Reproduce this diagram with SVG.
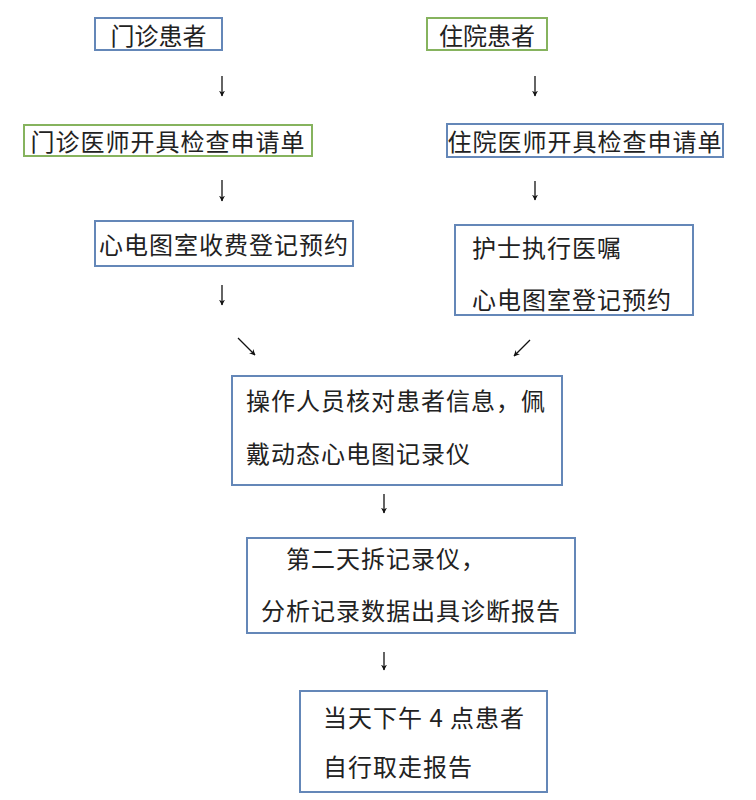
<svg xmlns="http://www.w3.org/2000/svg" width="756" height="800" viewBox="0 0 756 800">
<defs>
<marker id="ah" viewBox="0 0 10 10" refX="9" refY="5" markerWidth="6" markerHeight="6" markerUnits="userSpaceOnUse" orient="auto">
<path d="M0,0 L10,5 L0,10 L3,5 Z" fill="#111"/>
</marker>
<style>
.bb{fill:#fff;stroke:#6487b8;stroke-width:2}
.gb{fill:#fff;stroke:#86b35e;stroke-width:2}
.t{font-family:"Noto Sans CJK SC","Noto Sans",sans-serif;font-size:24px;fill:#222;dominant-baseline:central}
.c{stroke:#111;stroke-width:1.3;fill:none;marker-end:url(#ah)}
</style>
</defs>
<rect width="756" height="800" fill="#fff"/>
<g id="connectors">
<line class="c" x1="222" y1="76" x2="222" y2="96"/>
<line class="c" x1="535" y1="76" x2="535" y2="96"/>
<line class="c" x1="222" y1="180" x2="222" y2="201"/>
<line class="c" x1="535" y1="181" x2="535" y2="200"/>
<line class="c" x1="222" y1="285" x2="222" y2="305"/>
<line class="c" x1="238" y1="338" x2="255" y2="355"/>
<line class="c" x1="530" y1="340" x2="514" y2="356"/>
<line class="c" x1="384" y1="494" x2="384" y2="513"/>
<line class="c" x1="384" y1="652" x2="384" y2="670"/>
</g>
<g id="n1"><rect class="bb" x="95" y="18" width="127" height="32"/><text class="t" x="158.5" y="34" text-anchor="middle">门诊患者</text></g>
<g id="n2"><rect class="gb" x="427" y="18" width="120" height="32"/><text class="t" x="487" y="34" text-anchor="middle">住院患者</text></g>
<g id="n3"><rect class="gb" x="24" y="125" width="288" height="31"/><text class="t" x="168" y="140.5" text-anchor="middle" letter-spacing="1">门诊医师开具检查申请单</text></g>
<g id="n4"><rect class="bb" x="447" y="124" width="276" height="33"/><text class="t" x="585" y="140.5" text-anchor="middle" letter-spacing="1">住院医师开具检查申请单</text></g>
<g id="n5"><rect class="bb" x="95" y="221" width="258" height="45"/><text class="t" x="224" y="243.5" text-anchor="middle" letter-spacing="1">心电图室收费登记预约</text></g>
<g id="n6"><rect class="bb" x="455" y="225" width="238" height="90"/><text class="t" x="472" y="246" letter-spacing="1">护士执行医嘱</text><text class="t" x="472" y="298" letter-spacing="1">心电图室登记预约</text></g>
<g id="n7"><rect class="bb" x="232" y="376" width="330" height="109"/><text class="t" x="246" y="399" letter-spacing="1">操作人员核对患者信息，佩</text><text class="t" x="246" y="452" letter-spacing="1">戴动态心电图记录仪</text></g>
<g id="n8"><rect class="bb" x="247" y="538" width="328" height="95"/><text class="t" x="286" y="557" letter-spacing="1">第二天拆记录仪，</text><text class="t" x="261" y="609" letter-spacing="1">分析记录数据出具诊断报告</text></g>
<g id="n9"><rect class="bb" x="300" y="691" width="247" height="101"/><text class="t" x="323" y="716" letter-spacing="1">当天下午 4 点患者</text><text class="t" x="323" y="765" letter-spacing="1">自行取走报告</text></g>
</svg>
